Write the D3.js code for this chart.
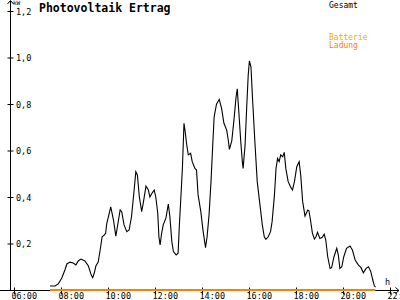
<!DOCTYPE html>
<html>
<head>
<meta charset="utf-8">
<script src="https://cdn.jsdelivr.net/npm/d3@7"></script>
<style>
  html, body { margin: 0; padding: 0; background: #fff; }
  svg { display: block; font-family: "DejaVu Sans Mono", monospace; }
</style>
</head>
<body>
<svg class="svg-pv" width="400" height="300"></svg>
<script>
// Gesamt (kW)
const times = ["07:32","07:45","07:53","08:02","08:10","08:15","08:23","08:31","08:38","08:44",
  "08:51","09:01","09:10","09:17","09:21","09:25","09:29","09:35","09:40","09:45",
  "09:51","09:54","09:57","10:01","10:07","10:14","10:20","10:24","10:31","10:35",
  "10:41","10:48","10:54","11:00","11:06","11:11","11:15","11:20","11:26","11:30",
  "11:37","11:43","11:47","11:53","11:58","12:02","12:07","12:10","12:13","12:17",
  "12:21","12:28","12:34","12:38","12:43","12:47","12:54","12:59","13:02","13:06",
  "13:10","13:14","13:17","13:21","13:25","13:31","13:35","13:42","13:46","13:50",
  "13:57","14:03","14:09","14:13","14:18","14:23","14:27","14:31","14:37","14:44",
  "14:50","14:56","15:03","15:07","15:10","15:16","15:22","15:27","15:30","15:34",
  "15:39","15:43","15:45","15:50","15:54","15:58","16:01","16:05","16:09","16:15",
  "16:21","16:28","16:34","16:39","16:43","16:49","16:55","16:59","17:05","17:09",
  "17:13","17:17","17:21","17:26","17:30","17:34","17:40","17:46","17:51","17:56",
  "18:02","18:08","18:12","18:17","18:23","18:30","18:33","18:37","18:42","18:47",
  "18:51","18:55","19:01","19:07","19:12","19:16","19:21","19:27","19:31","19:37",
  "19:44","19:48","19:52","19:57","20:02","20:09","20:18","20:24","20:31","20:39",
  "20:46","20:52","20:59","21:05","21:11","21:16","21:20","21:23"]
const gesamt = [0.017,0.017,0.026,0.052,0.086,0.112,0.120,0.116,0.108,0.125,
  0.133,0.125,0.103,0.065,0.053,0.073,0.103,0.120,0.172,0.229,
  0.237,0.245,0.288,0.315,0.358,0.301,0.232,0.272,0.344,0.337,
  0.280,0.251,0.258,0.315,0.417,0.509,0.495,0.401,0.337,0.374,
  0.447,0.430,0.400,0.418,0.430,0.400,0.331,0.229,0.194,0.245,
  0.280,0.310,0.370,0.315,0.208,0.165,0.151,0.158,0.272,0.396,
  0.525,0.717,0.681,0.624,0.581,0.588,0.552,0.523,0.516,0.409,
  0.337,0.251,0.182,0.229,0.323,0.466,0.609,0.745,0.799,0.820,
  0.781,0.717,0.688,0.645,0.605,0.641,0.738,0.831,0.865,0.767,
  0.638,0.552,0.523,0.624,0.781,0.925,0.985,0.960,0.825,0.638,
  0.466,0.366,0.280,0.229,0.218,0.229,0.251,0.294,0.409,0.523,
  0.566,0.552,0.581,0.573,0.592,0.523,0.466,0.444,0.430,0.466,
  0.530,0.552,0.495,0.380,0.318,0.344,0.341,0.301,0.244,0.219,
  0.229,0.248,0.222,0.227,0.240,0.215,0.143,0.093,0.096,0.143,
  0.179,0.151,0.093,0.100,0.143,0.179,0.189,0.172,0.129,0.108,
  0.096,0.074,0.093,0.100,0.079,0.043,0.018,0.012]

// Batterie Ladung (kW)
const ladungTimes = ["07:32","21:23"]
const ladung = [0, 0]

const xTicks = [6, 8, 10, 12, 14, 16, 18, 20, 22]
const yTicks = [0.2, 0.4, 0.6, 0.8, 1.0, 1.2]

const toHours = s => { let p = s.split(":"); return +p[0] + p[1] / 60 }
const pad = n => (n < 10 ? "0" : "") + n

var svg = d3.select(".svg-pv")
var x = d3.scaleLinear().domain([6, 22]).range([14, 390])
var y = d3.scaleLinear().domain([0, 1.2]).range([290, 11])

var fs = "8.5px"

// y axis
svg.append("line")
    .attr("x1", 10.5).attr("x2", 10.5).attr("y1", 1).attr("y2", 290)
    .attr("stroke", "#000")
svg.append("path")
    .attr("d", "M7.5,4 L10.5,0.5 L13.5,4")
    .attr("fill", "none").attr("stroke", "#000")
var yAxis = d3.axisLeft(y).tickValues(yTicks).tickSize(0)
    .tickFormat(d => d3.format(".1f")(d).replace(".", ","))
var gy = svg.append("g").attr("transform", "translate(10.5,0)").call(yAxis)
gy.select(".domain").remove()
gy.selectAll(".tick line").attr("x1", -3).attr("x2", 3).attr("stroke", "#000")
gy.selectAll(".tick text")
    .attr("x", 5.5).attr("dy", "0.4em")
    .attr("text-anchor", "start")
    .style("font-size", fs).style("font-family", "DejaVu Sans Mono").attr("fill", "#000")
svg.append("text").attr("x", 13).attr("y", 5)
    .style("font-size", "6px").text("kW")

// x axis
svg.append("line")
    .attr("x1", 0).attr("x2", 399).attr("y1", 290.5).attr("y2", 290.5)
    .attr("stroke", "#000")
svg.append("path")
    .attr("d", "M395.5,287.5 L399,290.5 L395.5,293.5")
    .attr("fill", "none").attr("stroke", "#000")
var xAxis = d3.axisBottom(x).tickValues(xTicks).tickSize(0)
    .tickFormat(d => pad(d) + ":00")
var gx = svg.append("g").attr("transform", "translate(0,290.5)").call(xAxis)
gx.select(".domain").remove()
gx.selectAll(".tick line").attr("y1", -3).attr("y2", 4).attr("stroke", "#000")
gx.selectAll(".tick text")
    .attr("x", -3).attr("y", 8.5).attr("dy", 0)
    .attr("text-anchor", "start")
    .style("font-size", fs).style("font-family", "DejaVu Sans Mono").attr("fill", "#000")
svg.append("text").attr("x", 385).attr("y", 285)
    .style("font-size", fs).text("h")

// Ladung line (orange, on baseline)
var ladData = ladungTimes.map((t, i) => ({ t: toHours(t), v: ladung[i] }))
var lineL = d3.line().x(d => x(d.t)).y(d => y(d.v))
svg.append("path")
    .attr("d", lineL(ladData))
    .attr("stroke", "#ff8000").attr("stroke-width", 2)
    .attr("fill", "none")

// Gesamt line
var data = times.map((t, i) => ({ t: toHours(t), v: gesamt[i] }))
var line = d3.line().x(d => x(d.t)).y(d => y(d.v))
svg.append("path")
    .attr("d", line(data))
    .attr("stroke", "#000").attr("stroke-width", 1.1)
    .attr("fill", "none")

// title + legend
svg.append("text").attr("x", 39).attr("y", 11.5)
    .style("font-size", "11.5px").style("font-weight", "bold")
    .text("Photovoltaik Ertrag")
svg.append("text").attr("x", 329).attr("y", 7.5)
    .style("font-size", "8px").attr("fill", "#000").text("Gesamt")
svg.append("text").attr("x", 329).attr("y", 39.5)
    .style("font-size", "8px").attr("fill", "#ffa500").text("Batterie")
svg.append("text").attr("x", 329).attr("y", 47.5)
    .style("font-size", "8px").attr("fill", "#ff8000").text("Ladung")
</script>
</body>
</html>
